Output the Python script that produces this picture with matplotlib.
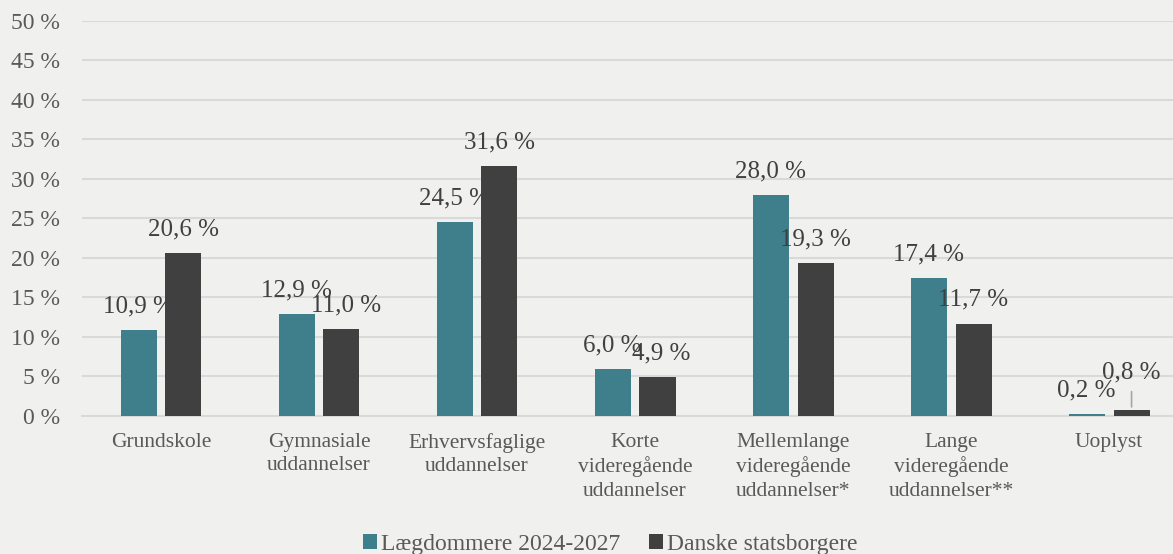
import numpy as np
import matplotlib.pyplot as plt

categories = ['Grundskole', 'Gymnasiale\nuddannelser', 'Erhvervsfaglige\nuddannelser',
              'Korte\nvideregående\nuddannelser', 'Mellemlange\nvideregående\nuddannelser*',
              'Lange\nvideregående\nuddannelser**', 'Uoplyst']
laegdommere = [10.9, 12.9, 24.5, 6.0, 28.0, 17.4, 0.2]
statsborgere = [20.6, 11.0, 31.6, 4.9, 19.3, 11.7, 0.8]
series_names = ['Lægdommere 2024-2027', 'Danske statsborgere']

bg = '#f0f0ef'
teal = '#3e7f8b'
dark = '#404040'

plt.rcParams['font.family'] = ['Liberation Serif', 'DejaVu Serif']

fig = plt.figure(figsize=(11.73, 5.54), dpi=100, facecolor=bg)
ax = fig.add_axes([0.0699, 0.2491, 0.943, 0.7135], facecolor=bg)

x = np.arange(len(categories))
w = 0.228
off = 0.142
ax.bar(x - off, laegdommere, w, color=teal, label=series_names[0], zorder=3)
ax.bar(x + off, statsborgere, w, color=dark, label=series_names[1], zorder=3)

def fmt(v):
    return f'{v:.1f} %'.replace('.', ',')

for i, v in enumerate(laegdommere):
    ax.annotate(fmt(v), (x[i] - off, v), xytext=(0, 17), textcoords='offset points',
                ha='center', va='center', fontsize=18, color='#404040', zorder=4)
for i, v in enumerate(statsborgere):
    dx, dy = 0, 17
    if i in (1, 3):
        dx = 3
    if i == len(statsborgere) - 1:
        dy = 27
        ax.annotate('', (x[i] + off, v), xytext=(0, 15), textcoords='offset points',
                    arrowprops=dict(arrowstyle='-', color='#a6a6a6', lw=1.2), zorder=4)
    ax.annotate(fmt(v), (x[i] + off, v), xytext=(dx, dy), textcoords='offset points',
                ha='center', va='center', fontsize=18, color='#404040', zorder=4)

ax.set_xlim(-0.5, len(categories) - 0.5)
ax.set_ylim(0, 50)
ax.set_yticks(np.arange(0, 51, 5))
ax.set_yticklabels([f'{t} %' for t in range(0, 51, 5)])
ax.yaxis.grid(True, color='#d9d9d9', lw=1.5, zorder=0)
ax.set_xticks(x)
ax.set_xticklabels(categories, fontsize=15.5, color='#595959', linespacing=1.3)
ax.tick_params(axis='y', length=0, pad=16, labelsize=17, labelcolor='#595959')
ax.tick_params(axis='x', length=0, pad=12)
for s in ['top', 'right', 'left']:
    ax.spines[s].set_visible(False)
ax.spines['bottom'].set_color('#d9d9d9')
ax.spines['bottom'].set_linewidth(1.5)

fig.legend(loc='center', bbox_to_anchor=(0.52, 0.018), ncol=2, frameon=False,
           fontsize=17, handlelength=0.62, handleheight=0.62, handletextpad=0.15,
           columnspacing=1.2, labelcolor='#595959')

fig.savefig('out.png', dpi=100, facecolor=bg)
